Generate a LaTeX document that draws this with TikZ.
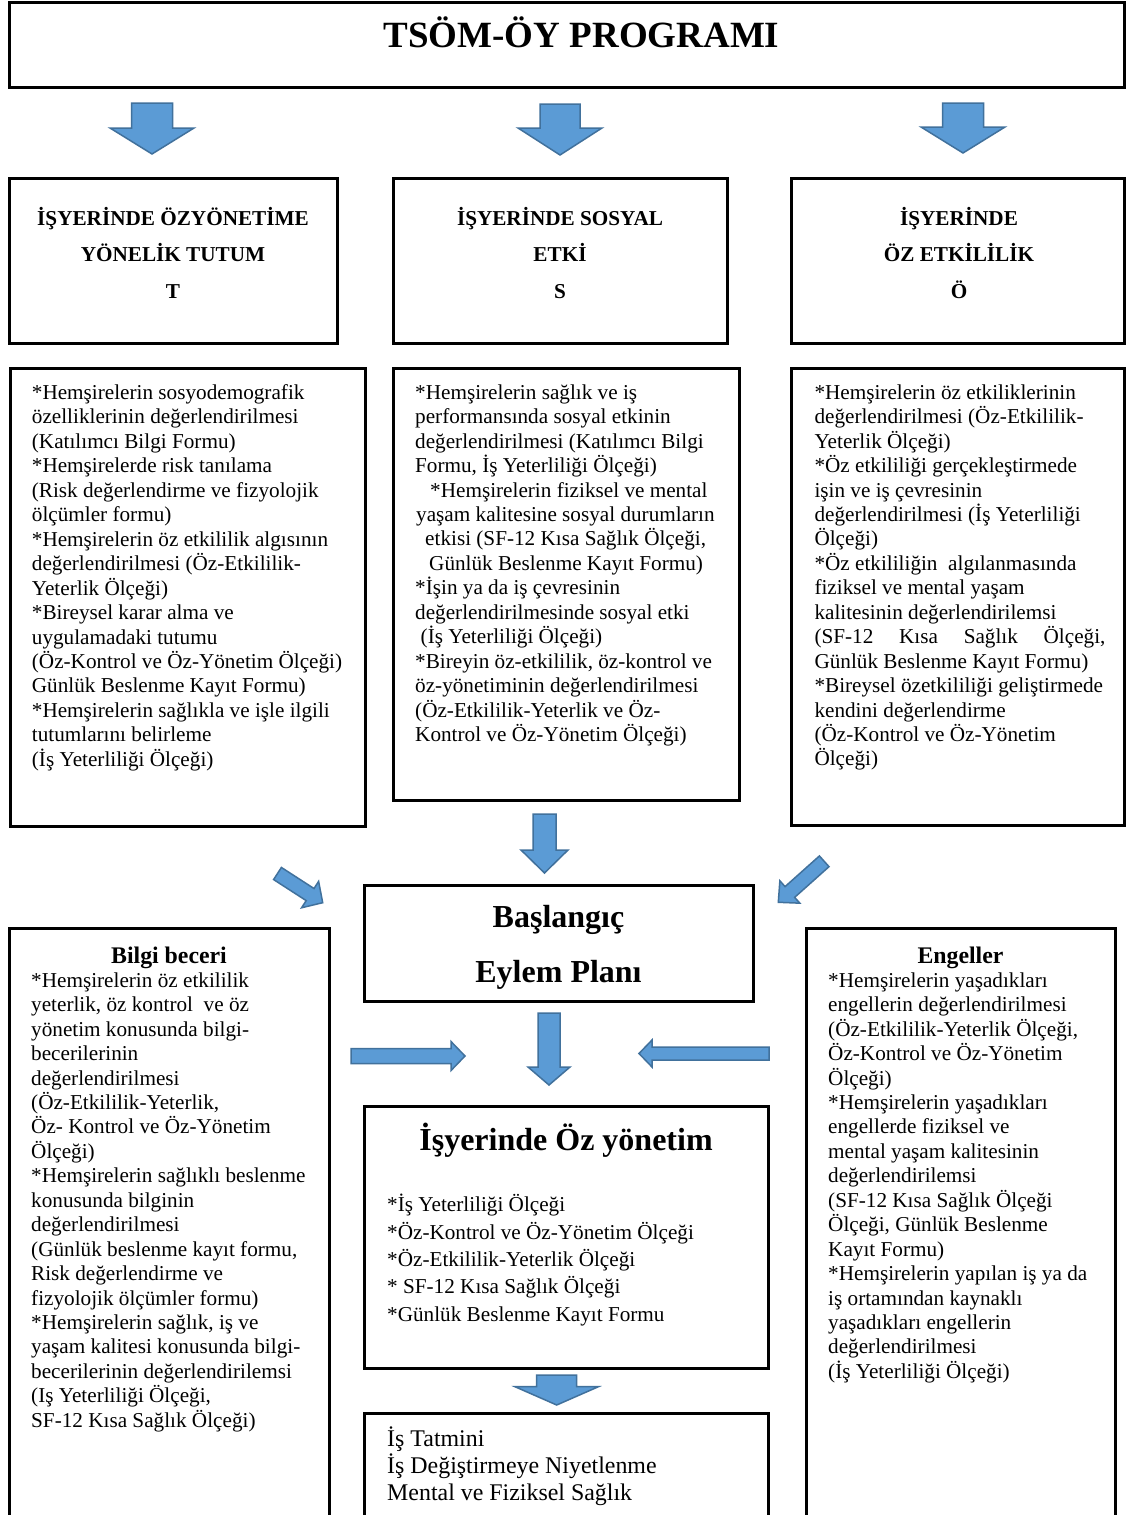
\documentclass[tikz,border=0pt]{standalone}
\usepackage{fontspec}
\setmainfont{Liberation Serif}
\usetikzlibrary{calc}

\definecolor{arrowfill}{HTML}{5B9BD5}
\definecolor{arrowline}{HTML}{41719C}

\tikzset{
  frame/.style={draw=black, line width=3pt, inner sep=0pt, outer sep=0pt},
  bodytext/.style={anchor=north west, inner sep=0pt, align=left, font=\fontsize{21.2}{24.45}\selectfont},
  headtext/.style={anchor=north, inner sep=0pt, align=center, font=\fontsize{21.2}{36.7}\selectfont\bfseries},
  bigtitle/.style={anchor=base, inner sep=0pt, font=\fontsize{37}{40}\selectfont\bfseries},
  boxtitle/.style={anchor=base, inner sep=0pt, font=\fontsize{32}{36}\selectfont\bfseries},
  subtitle/.style={anchor=base, inner sep=0pt, font=\fontsize{23.8}{26}\selectfont\bfseries},
  blockarrow/.style={fill=arrowfill, draw=arrowline, line width=1.5pt, line join=miter},
}

% rectangle panel from (x1,y1) to (x2,y2)
\newcommand\panel[5]{\node[frame, minimum width={#4-#2}, minimum height={#5-#3}] (#1) at ({(#2+#4)/2},{(#3+#5)/2}) {};}
% block arrow: tail, tip, half shaft width, half head width, head length
\newcommand\blockarrow[5]{%
  \coordinate (#1-base) at ($(#2)!#5pt!(#1)$);
  \filldraw[blockarrow] ($(#1)!#3pt!90:(#2)$) -- ($(#1-base)!#3pt!90:(#2)$) -- ($(#1-base)!#4pt!90:(#2)$) -- (#2)
    -- ($(#1-base)!#4pt!-90:(#2)$) -- ($(#1-base)!#3pt!-90:(#2)$) -- ($(#1)!#3pt!-90:(#2)$) -- cycle;}
\newcommand\firstline{\rule{0pt}{20pt}}

\begin{document}
\begin{tikzpicture}[x=1pt, y=-1pt]
\fill[white] (0,0) rectangle (1126,1515);
\useasboundingbox (0,0) rectangle (1126,1515);

% panels
\panel{title}{9}{2}{1124}{87}
\panel{headT}{9}{178}{337}{343}
\panel{headS}{393}{178}{727}{343}
\panel{headO}{791}{178}{1124}{343}
\panel{bodyT}{10}{368}{365}{826}
\panel{bodyS}{393}{368}{739}{800}
\panel{bodyO}{791}{368}{1124}{825}
\panel{start}{364}{885}{753}{1001}
\panel{skill}{9}{928}{329}{1540}
\panel{barrier}{806}{928}{1115}{1540}
\panel{selfman}{364}{1106}{768}{1368}
\panel{outcome}{364}{1413}{768}{1540}

% texts
\node[bigtitle] (titletext) at (581.5,47) {TSÖM-ÖY PROGRAMI};

\node[headtext] (headTtext) at (173,205) {\firstline İŞYERİNDE ÖZYÖNETİME\\YÖNELİK TUTUM\\T};
\node[headtext] (headStext) at (560,205) {\firstline İŞYERİNDE SOSYAL\\ETKİ\\S};
\node[headtext] (headOtext) at (959,205) {\firstline İŞYERİNDE\\ÖZ ETKİLİLİK\\Ö};

\node[bodytext] (bodyTtext) at (31.7,379.3) {\firstline *Hemşirelerin sosyodemografik\\
özelliklerinin değerlendirilmesi\\
(Katılımcı Bilgi Formu)\\
*Hemşirelerde risk tanılama\\
(Risk değerlendirme ve fizyolojik\\
ölçümler formu)\\
*Hemşirelerin öz etkililik algısının\\
değerlendirilmesi (Öz-Etkililik-\\
Yeterlik Ölçeği)\\
*Bireysel karar alma ve\\
uygulamadaki tutumu\\
(Öz-Kontrol ve Öz-Yönetim Ölçeği)\\
Günlük Beslenme Kayıt Formu)\\
*Hemşirelerin sağlıkla ve işle ilgili\\
tutumlarını belirleme\\
(İş Yeterliliği Ölçeği)};

\node[bodytext] (bodyStext) at (415,379) {\firstline *Hemşirelerin sağlık ve iş\\
performansında sosyal etkinin\\
değerlendirilmesi (Katılımcı Bilgi\\
Formu, İş Yeterliliği Ölçeği)\\
\hspace*{15pt}*Hemşirelerin fiziksel ve mental\\
\hspace*{1pt}yaşam kalitesine sosyal durumların\\
\hspace*{10pt}etkisi (SF-12 Kısa Sağlık Ölçeği,\\
\hspace*{14pt}Günlük Beslenme Kayıt Formu)\\
*İşin ya da iş çevresinin\\
değerlendirilmesinde sosyal etki\\
\hspace*{5.5pt}(İş Yeterliliği Ölçeği)\\
*Bireyin öz-etkililik, öz-kontrol ve\\
öz-yönetiminin değerlendirilmesi\\
(Öz-Etkililik-Yeterlik ve Öz-\\
Kontrol ve Öz-Yönetim Ölçeği)};

\node[bodytext] (bodyOtext) at (814.3,379) {\firstline *Hemşirelerin öz etkiliklerinin\\
değerlendirilmesi (Öz-Etkililik-\\
Yeterlik Ölçeği)\\
*Öz etkililiği gerçekleştirmede\\
işin ve iş çevresinin\\
değerlendirilmesi (İş Yeterliliği\\
Ölçeği)\\
*Öz etkililiğin\ \ algılanmasında\\
fiziksel ve mental yaşam\\
kalitesinin değerlendirilemsi\\
\makebox[291pt][s]{(SF-12 Kısa Sağlık Ölçeği,}\\
Günlük Beslenme Kayıt Formu)\\
*Bireysel özetkililiği geliştirmede\\
kendini değerlendirme\\
(Öz-Kontrol ve Öz-Yönetim\\
Ölçeği)};

\node[boxtitle] (starttop) at (558.5,927) {Başlangıç};
\node[boxtitle] (startbottom) at (558.5,982) {Eylem Planı};

\node[subtitle] (skilltitle) at (169,963) {Bilgi beceri};
\node[bodytext] (skilltext) at (31,967) {\firstline *Hemşirelerin öz etkililik\\
yeterlik, öz kontrol\ \ ve öz\\
yönetim konusunda bilgi-\\
becerilerinin\\
değerlendirilmesi\\
(Öz-Etkililik-Yeterlik,\\
Öz- Kontrol ve Öz-Yönetim\\
Ölçeği)\\
*Hemşirelerin sağlıklı beslenme\\
konusunda bilginin\\
değerlendirilmesi\\
(Günlük beslenme kayıt formu,\\
Risk değerlendirme ve\\
fizyolojik ölçümler formu)\\
*Hemşirelerin sağlık, iş ve\\
yaşam kalitesi konusunda bilgi-\\
becerilerinin değerlendirilemsi\\
(Iş Yeterliliği Ölçeği,\\
SF-12 Kısa Sağlık Ölçeği)};

\node[subtitle] (barriertitle) at (960.5,963) {Engeller};
\node[bodytext] (barriertext) at (828,967) {\firstline *Hemşirelerin yaşadıkları\\
engellerin değerlendirilmesi\\
(Öz-Etkililik-Yeterlik Ölçeği,\\
Öz-Kontrol ve Öz-Yönetim\\
Ölçeği)\\
*Hemşirelerin yaşadıkları\\
engellerde fiziksel ve\\
mental yaşam kalitesinin\\
değerlendirilemsi\\
(SF-12 Kısa Sağlık Ölçeği\\
Ölçeği, Günlük Beslenme\\
Kayıt Formu)\\
*Hemşirelerin yapılan iş ya da\\
iş ortamından kaynaklı\\
yaşadıkları engellerin\\
değerlendirilmesi\\
(İş Yeterliliği Ölçeği)};

\node[boxtitle] (selfmantitle) at (566,1150) {İşyerinde Öz yönetim};
\node[bodytext, font=\fontsize{21.2}{27.4}\selectfont] (selfmantext) at (387,1191.5) {\firstline *İş Yeterliliği Ölçeği\\
*Öz-Kontrol ve Öz-Yönetim Ölçeği\\
*Öz-Etkililik-Yeterlik Ölçeği\\
* SF-12 Kısa Sağlık Ölçeği\\
*Günlük Beslenme Kayıt Formu};

\node[bodytext, font=\fontsize{23.9}{26.7}\selectfont] (outcometext) at (387,1422.7) {\rule{0pt}{24pt}İş Tatmini\\
İş Değiştirmeye Niyetlenme\\
Mental ve Fiziksel Sağlık};

% block arrows
\coordinate (a1-tail) at (152,103);   \coordinate (a1-tip) at (152,154);
\coordinate (a2-tail) at (560,104);   \coordinate (a2-tip) at (560,155);
\coordinate (a3-tail) at (963,103);   \coordinate (a3-tip) at (963,153);
\coordinate (a4-tail) at (544.5,814); \coordinate (a4-tip) at (544.5,873);
\coordinate (a5-tail) at (277.5,873.5); \coordinate (a5-tip) at (322.7,902.7);
\coordinate (a6-tail) at (824.2,861.3); \coordinate (a6-tip) at (778.3,902.3);
\coordinate (a7-tail) at (549,1013);  \coordinate (a7-tip) at (549,1085);
\coordinate (a8-tail) at (351,1056);  \coordinate (a8-tip) at (465,1056);
\coordinate (a9-tail) at (769,1053.5); \coordinate (a9-tip) at (639,1053.5);
\coordinate (a10-tail) at (556.7,1375); \coordinate (a10-tip) at (556.7,1405);

\blockarrow{a1-tail}{a1-tip}{20.5}{42}{26}
\blockarrow{a2-tail}{a2-tip}{20}{42}{27}
\blockarrow{a3-tail}{a3-tip}{20.5}{42}{26}
\blockarrow{a4-tail}{a4-tip}{11.5}{23.5}{23}
\blockarrow{a5-tail}{a5-tip}{7.2}{15.7}{15}
\blockarrow{a6-tail}{a6-tip}{7.2}{15}{15.5}
\blockarrow{a7-tail}{a7-tip}{11}{21}{18}
\blockarrow{a8-tail}{a8-tip}{7.5}{14.5}{14}
\blockarrow{a9-tail}{a9-tip}{6.5}{13.5}{13}
\blockarrow{a10-tail}{a10-tip}{20}{41.7}{18.3}
\end{tikzpicture}
\end{document}
